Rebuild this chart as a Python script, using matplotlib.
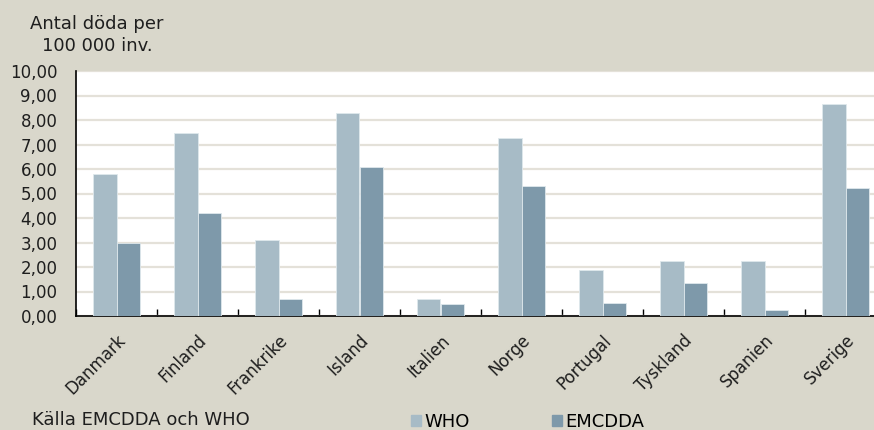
import matplotlib
matplotlib.use("Agg")
import matplotlib.pyplot as plt
import numpy as np
from matplotlib.patches import Patch

countries = ["Danmark", "Finland", "Frankrike", "Island", "Italien",
             "Norge", "Portugal", "Tyskland", "Spanien", "Sverige"]
who = [5.78, 7.47, 3.11, 8.29, 0.69, 7.27, 1.87, 2.26, 2.24, 8.65]
emcdda = [2.98, 4.22, 0.68, 6.08, 0.49, 5.31, 0.53, 1.35, 0.23, 5.22]
yticks = [0, 1, 2, 3, 4, 5, 6, 7, 8, 9, 10]

bg = "#d9d7cb"
c_who = "#a7bbc6"
c_emc = "#7e99aa"
grid_c = "#e4e1d9"
txt = "#1e1e1e"

plt.rcParams["font.family"] = ["DejaVu Sans"]

fig = plt.figure(figsize=(8.74, 4.30), dpi=100, facecolor=bg)
W, H = 874, 430
left, right, top, bottom = 76, 886, 71, 316
ax = fig.add_axes([left / W, 1 - bottom / H, (right - left) / W, (bottom - top) / H])
ax.set_facecolor("white")

x = np.arange(len(countries))
bw = 0.288
ax.bar(x - bw / 2, who, width=bw, color=c_who, edgecolor="#dfe8ec", linewidth=0.6, zorder=3)
ax.bar(x + bw / 2, emcdda, width=bw, color=c_emc, edgecolor="#dfe8ec", linewidth=0.6, zorder=3)

ax.set_xlim(-0.5, len(countries) - 0.5)
ax.set_ylim(0, 10)
ax.set_yticks(yticks)
ax.set_yticklabels([f"{v:.2f}".replace(".", ",") for v in yticks], fontsize=12, color=txt)
ax.tick_params(axis="y", length=0, pad=13.5)
ax.yaxis.grid(True, color=grid_c, linewidth=1.6, zorder=0)

ax.set_xticks(np.arange(len(countries) + 1) - 0.5, minor=True)
ax.set_xticks(x)
ax.set_xticklabels(countries, rotation=45, ha="right", rotation_mode="anchor",
                   fontsize=12, color=txt)
ax.tick_params(axis="x", which="major", length=0, pad=11)
ax.tick_params(axis="x", which="minor", length=5, direction="in", width=1, color="black")

for s in ["top", "right"]:
    ax.spines[s].set_visible(False)
for s in ["left", "bottom"]:
    ax.spines[s].set_color("black")
    ax.spines[s].set_linewidth(1.2)

fig.text(97 / W, 1 - 24 / H, "Antal döda per", ha="center", va="center",
         fontsize=13, color=txt)
fig.text(97 / W, 1 - 46 / H, "100 000 inv.", ha="center", va="center",
         fontsize=13, color=txt)
fig.text(32 / W, 1 - 420 / H, "Källa EMCDDA och WHO", ha="left", va="center",
         fontsize=13, color=txt)

handles = [Patch(color=c_who, label="WHO"), Patch(color=c_emc, label="EMCDDA")]
fig.legend(handles=handles, loc="center left", bbox_to_anchor=(411 / W, 1 - 422 / H),
           ncol=2, frameon=False, fontsize=13, handlelength=0.55, handleheight=0.55,
           handletextpad=0.2, columnspacing=4.55, borderpad=0, borderaxespad=0)

fig.savefig("out.png", dpi=100, facecolor=bg)
